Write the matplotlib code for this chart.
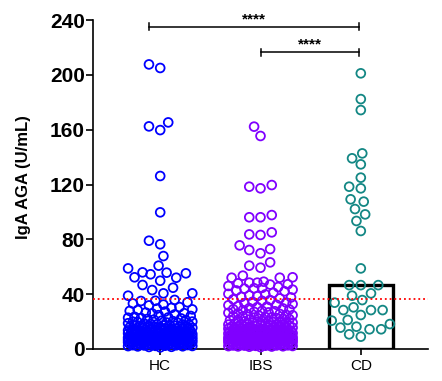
import numpy as np
import matplotlib
matplotlib.use("Agg")
import matplotlib.pyplot as plt

# group names and colours
groups = ["HC", "IBS", "CD"]
colors = ["#0000ff", "#8000ff", "#138784"]

# values (U/mL)
hc_high = [207.6, 205.0, 165.3, 162.4, 159.7, 126.2, 99.7, 79.0, 76.4, 67.8, 60.8, 58.8,
           55.9, 55.7, 55.2, 54.5, 52.3, 52.0, 49.8, 46.7, 44.7, 43.0, 40.6, 40.6, 38.9, 35.2]
hc_low = [3.2, 7.8, 12.4, 5.1, 9.6, 2.3, 15.7, 6.4, 11.2, 4.7, 8.9, 18.3, 1.6, 10.5, 6.9, 13.8, 3.9, 21.4, 7.2, 5.6,
          9.1, 14.6, 2.8, 17.2, 8.3, 4.2, 12.9, 6.1, 24.7, 10.8, 3.5, 16.4, 7.5, 11.7, 5.3, 19.6, 9.4, 2.1, 13.3, 8.0,
          27.3, 6.6, 15.1, 4.4, 10.1, 22.8, 7.0, 12.1, 3.0, 17.9, 9.8, 5.9, 14.2, 1.2, 11.5, 20.3, 8.6, 6.3, 30.6, 4.9,
          13.0, 10.3, 2.6, 16.8, 7.7, 25.9, 5.0, 12.6, 9.2, 3.7, 18.8, 11.0, 6.8, 14.9, 4.0, 23.5, 8.4, 2.0, 10.7, 15.4,
          7.3, 33.2, 5.5, 13.6, 9.0, 3.4, 19.1, 12.2, 6.0, 16.1, 8.1, 28.4, 4.6, 11.4, 1.9, 14.0, 7.9, 21.9, 10.0, 5.8,
          17.5, 3.1, 12.8, 9.5, 26.6, 6.5, 15.8, 4.3, 11.9, 8.7, 2.4, 20.7, 13.5, 7.1, 35.0, 5.2, 10.4, 18.0, 3.8, 9.7,
          14.4, 6.2, 24.1, 11.1, 4.8, 16.6, 8.2, 2.9, 12.3, 31.8, 7.4, 19.9, 5.7, 13.1, 9.9, 3.3, 22.3, 10.9, 6.7, 15.0,
          4.1, 29.5, 8.5, 1.5, 17.0, 12.0, 7.6, 25.2, 5.4, 14.7, 9.3, 3.6, 20.0, 11.6, 6.9, 34.1, 4.5, 16.2, 8.8, 2.7,
          13.9, 10.2, 23.0, 5.9, 18.5, 7.8, 32.4, 12.7, 3.2, 15.5, 9.0, 27.8, 6.3, 11.3, 4.9, 21.0, 14.3, 8.0, 2.2, 17.7,
          10.6, 30.0, 6.0, 13.4, 5.0, 19.3, 9.6, 26.1, 7.2, 12.5, 3.9, 16.9, 11.8, 28.9, 8.4, 4.4, 22.6, 14.8, 6.6, 35.8]

ibs_high = [162.2, 155.4, 119.6, 118.4, 117.2, 97.7, 96.1, 96.1, 85.1, 83.6, 83.2, 75.6, 72.9, 72.2, 69.8,
            63.2, 60.8, 59.3, 53.5, 52.3, 52.0, 52.0, 49.1, 48.4, 48.4, 47.9, 47.2, 44.3]
ibs_low = [4.1, 9.3, 14.8, 2.6, 7.4, 19.5, 11.2, 5.8, 24.3, 3.3, 12.7, 8.1, 16.9, 1.8, 10.4, 29.6, 6.2, 13.5, 4.7, 21.8,
           9.0, 2.9, 15.6, 7.9, 33.4, 11.8, 5.1, 18.2, 3.7, 12.1, 26.7, 8.6, 6.5, 14.1, 2.2, 10.9, 38.5, 4.4, 17.3, 9.7,
           22.9, 7.0, 13.0, 5.5, 31.2, 11.4, 3.0, 16.3, 8.3, 42.1, 6.8, 19.8, 12.4, 4.0, 27.5, 10.1, 1.4, 15.0, 7.6, 24.9,
           5.3, 13.8, 9.5, 35.7, 3.5, 20.6, 11.0, 6.1, 17.8, 2.5, 44.6, 8.8, 14.5, 4.9, 29.0, 12.9, 7.2, 23.4, 10.6, 3.9,
           16.0, 6.4, 39.8, 9.1, 18.7, 5.0, 13.2, 2.0, 26.0, 11.6, 7.8, 32.8, 4.2, 15.3, 8.5, 21.2, 6.0, 12.6, 3.2, 46.0,
           10.3, 17.1, 5.7, 28.3, 9.8, 14.0, 2.8, 36.9, 7.3, 19.2, 11.9, 4.6, 24.0, 8.0, 13.7, 6.7, 41.0, 3.6, 16.6, 10.0,
           30.5, 5.2, 12.2, 1.7, 20.1, 9.4, 15.9, 7.5, 34.4, 4.3, 18.0, 11.3, 6.3, 25.6, 2.4, 13.4, 8.9, 43.3, 5.6, 22.1,
           10.7, 3.4, 16.8, 7.1, 37.6, 12.0, 4.8, 27.1, 9.2, 14.7, 6.6, 19.0, 2.1, 31.9, 11.5, 5.4, 15.2, 8.2, 23.8, 3.8,
           45.2, 10.2, 13.1, 6.9, 28.8, 4.5, 17.5, 9.9, 40.2, 7.7, 12.8, 2.7, 21.5, 5.9, 16.2, 11.1, 33.9, 8.4, 3.1, 25.3,
           14.3, 6.2, 19.6, 10.5, 36.2, 4.1, 12.3, 7.9, 29.8, 1.9, 15.7, 9.6, 22.5, 5.5, 39.1, 13.6, 8.7, 17.6, 3.3, 26.4,
           11.7, 6.5, 14.9, 4.7, 32.3, 9.3, 20.4, 7.4, 44.0, 2.3, 12.5, 10.8, 18.5, 5.1, 27.8, 13.9, 8.1, 35.1, 3.6, 16.4,
           6.8, 23.1, 11.4, 4.0, 30.9, 9.0, 14.4, 7.0, 38.0, 2.6, 19.4, 10.9, 42.7, 5.8, 24.6, 12.7, 8.6, 47.0, 3.9, 21.0]

cd_vals = [201.1, 182.3, 174.3, 142.7, 139.1, 134.7, 125.0, 118.4, 117.2, 109.2, 107.5, 102.1, 98.2, 93.4, 86.1,
           58.8, 46.6, 46.6, 46.6, 40.6, 38.9, 35.7, 33.8, 30.4, 28.4, 28.4, 28.4, 24.8, 21.2, 20.7, 18.2,
           16.3, 15.6, 14.4, 14.4, 10.7, 9.0]

cutoff = 36.2
brackets = [(-0.11, 1.98, 235), (1.0, 1.98, 216.5)]

data = [hc_high + hc_low, ibs_high + ibs_low, cd_vals]

fig = plt.figure(figsize=(4.42, 3.81), dpi=100)
ax = fig.add_axes([93/442, 1-349/381, 335/442, 329/381])
ax.set_xlim(-0.67, 2.67)
ax.set_ylim(0, 240)

# pixels per data unit
px_x = 335 / 3.34
px_y = 329 / 240.0


def swarm(vals, halfw, diam=10.5):
    vals = np.asarray(vals, float)
    cands = np.linspace(-halfw, halfw, 41)
    cands = cands[np.argsort(np.abs(cands), kind="stable")]
    xs = np.zeros(len(vals))
    px, py = [], []
    for i in np.argsort(vals, kind="stable"):
        y = vals[i] * px_y
        best, bestd = 0.0, -1
        for c in cands:
            cx = c * px_x
            if px:
                d = np.min(np.hypot(np.array(px) - cx, np.array(py) - y))
            else:
                d = np.inf
            if d >= diam:
                best = c
                break
            if d > bestd:
                bestd, best = d, c
        xs[i] = best
        px.append(best * px_x)
        py.append(y)
    return xs


halfws = [0.32, 0.32, 0.29]
for i, vals in enumerate(data):
    med = np.median(vals)
    ax.bar(i, med, width=0.64, fill=False, edgecolor="black", linewidth=2.4, zorder=2)
    xs = swarm(vals, halfws[i])
    ax.scatter(i + xs, vals, s=40, facecolors="none", edgecolors=colors[i],
               linewidths=1.3, zorder=3, clip_on=False)

ax.axhline(cutoff, color="red", linestyle=":", linewidth=1.3, zorder=4)

for x1, x2, yb in brackets:
    ax.plot([x1, x2], [yb, yb], color="black", lw=1.1, clip_on=False)
    for xe in (x1, x2):
        ax.plot([xe, xe], [yb - 2.6, yb + 2.6], color="black", lw=1.1, clip_on=False)
    ax.text((x1 + x2) / 2, yb + 0.5, "****", ha="center", va="bottom",
            fontsize=11, fontweight="bold", family="Liberation Sans")

for s in ["top", "right"]:
    ax.spines[s].set_visible(False)
for s in ["left", "bottom"]:
    ax.spines[s].set_linewidth(1.2)

ax.set_yticks(range(0, 241, 40))
ax.set_yticklabels([str(v) for v in range(0, 241, 40)], fontsize=15,
                   fontweight="bold", family="Liberation Sans")
ax.set_xticks(range(3))
ax.set_xticklabels(groups, fontsize=11, family="Liberation Sans")
ax.tick_params(axis="y", length=5, width=1.2, pad=1)
ax.tick_params(axis="x", length=4, width=1.2, pad=3)
ax.set_ylabel("IgA AGA (U/mL)", fontsize=12, fontweight="bold", family="Liberation Sans")
ax.yaxis.set_label_coords(-0.185, 0.523)

fig.savefig("out.png", dpi=100)
